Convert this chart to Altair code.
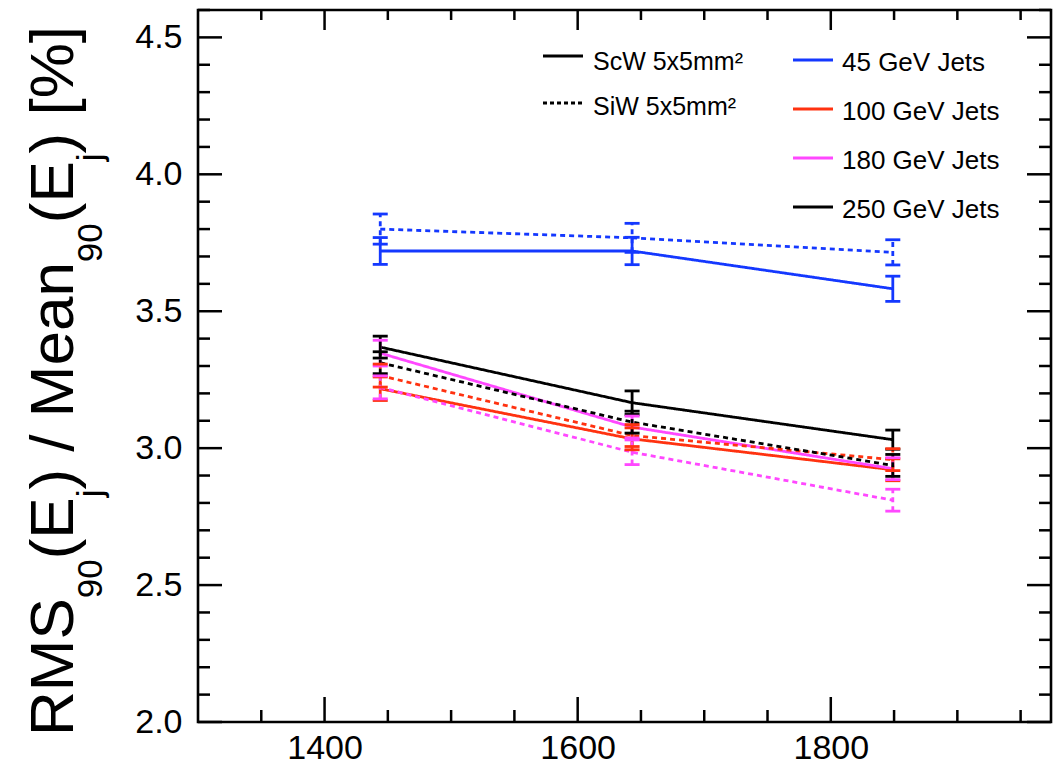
import altair as alt
import pandas as pd

# ---------------- data ----------------
x_vals = [1444, 1643, 1849]
jets = ["45 GeV Jets", "100 GeV Jets", "180 GeV Jets", "250 GeV Jets"]
jet_colors = ["#1438ff", "#ff3210", "#ff48ff", "#000000"]
detectors = ["ScW 5x5mm²", "SiW 5x5mm²"]

scw_45 = [3.720, 3.720, 3.582]
scw_100 = [3.217, 3.034, 2.921]
scw_180 = [3.347, 3.077, 2.925]
scw_250 = [3.369, 3.166, 3.031]
siw_45 = [3.800, 3.768, 3.715]
siw_100 = [3.265, 3.046, 2.958]
siw_180 = [3.222, 2.985, 2.810]
siw_250 = [3.312, 3.095, 2.937]

scw_45_err = [0.049, 0.050, 0.046]
scw_100_err = [0.043, 0.040, 0.040]
scw_180_err = [0.047, 0.040, 0.040]
scw_250_err = [0.040, 0.043, 0.035]
siw_45_err = [0.055, 0.053, 0.046]
siw_100_err = [0.042, 0.040, 0.040]
siw_180_err = [0.042, 0.045, 0.040]
siw_250_err = [0.040, 0.040, 0.040]

x_major = [1400, 1600, 1800]
x_minor = [1350, 1450, 1500, 1550, 1650, 1700, 1750, 1850, 1900, 1950]
y_major = [2.0, 2.5, 3.0, 3.5, 4.0, 4.5]
y_minor = [2.1, 2.2, 2.3, 2.4, 2.6, 2.7, 2.8, 2.9, 3.1, 3.2, 3.3, 3.4,
           3.6, 3.7, 3.8, 3.9, 4.1, 4.2, 4.3, 4.4, 4.6]

# ---------------- build long table ----------------
series = [
    (detectors[0], jets[0], scw_45, scw_45_err),
    (detectors[0], jets[1], scw_100, scw_100_err),
    (detectors[0], jets[2], scw_180, scw_180_err),
    (detectors[0], jets[3], scw_250, scw_250_err),
    (detectors[1], jets[0], siw_45, siw_45_err),
    (detectors[1], jets[1], siw_100, siw_100_err),
    (detectors[1], jets[2], siw_180, siw_180_err),
    (detectors[1], jets[3], siw_250, siw_250_err),
]
rows = []
for det, jet, vals, errs in series:
    for xv, v, e in zip(x_vals, vals, errs):
        rows.append({"det": det, "jet": jet, "x": xv, "y": v,
                     "lo": v - e, "hi": v + e})
df = pd.DataFrame(rows)

W, H = 853, 712
FONT = "Liberation Sans"
xscale = alt.Scale(domain=[1300, 1974], nice=False, zero=False)
yscale = alt.Scale(domain=[2.0, 4.6], nice=False, zero=False)
ax_x = alt.Axis(values=x_major, format="d", ticks=False, domain=False, grid=False,
                labelFontSize=34, labelFont=FONT, labelColor="black",
                labelPadding=9, title=None)
ax_y = alt.Axis(values=y_major, format=".1f", ticks=False, domain=False, grid=False,
                labelFontSize=34, labelFont=FONT, labelColor="black",
                labelPadding=16, title=None)


def X(field):
    return alt.X(field, scale=xscale, axis=ax_x, title=None)


def Y(field):
    return alt.Y(field, scale=yscale, axis=ax_y, title=None)


color = alt.Color("jet:N", scale=alt.Scale(domain=jets, range=jet_colors), legend=None)
dash = alt.StrokeDash("det:N", scale=alt.Scale(domain=detectors, range=[[1, 0], [5, 4]]), legend=None)

base = alt.Chart(df)

lines = base.mark_line(strokeWidth=2.8).encode(
    x=X("x:Q"), y=Y("y:Q"), color=color, strokeDash=dash, order="x:Q",
)
errbars = base.mark_rule(strokeWidth=2.8).encode(
    x=X("x:Q"), y=Y("lo:Q"), y2="hi:Q", color=color, strokeDash=dash,
)
cap_lo = base.mark_tick(orient="horizontal", size=15, thickness=2.8, opacity=1).encode(
    x=X("x:Q"), y=Y("lo:Q"), color=color,
)
cap_hi = base.mark_tick(orient="horizontal", size=15, thickness=2.8, opacity=1).encode(
    x=X("x:Q"), y=Y("hi:Q"), color=color,
)


# ---------------- frame ticks (pointing inward, ROOT style) ----------------
def yticks(vals, length):
    d = alt.Chart(pd.DataFrame({"v": vals}))
    left = d.mark_rule(color="black", strokeWidth=2.5).encode(
        y=Y("v:Q"), x=alt.value(0), x2=alt.value(length))
    right = d.mark_rule(color="black", strokeWidth=2.5).encode(
        y=Y("v:Q"), x=alt.value(W), x2=alt.value(W - length))
    return [left, right]


def xticks(vals, length_bottom, length_top):
    d = alt.Chart(pd.DataFrame({"v": vals}))
    bottom = d.mark_rule(color="black", strokeWidth=2.5).encode(
        x=X("v:Q"), y=alt.value(H), y2=alt.value(H - length_bottom))
    top = d.mark_rule(color="black", strokeWidth=2.5).encode(
        x=X("v:Q"), y=alt.value(0), y2=alt.value(length_top))
    return [bottom, top]


tick_layers = (yticks(y_major, 24) + yticks(y_minor, 12)
               + xticks(x_major, 25, 20) + xticks(x_minor, 12, 10))

# ---------------- legends (drawn as in the ROOT TLegend boxes) ----------------
legend_layers = []


def legend_entry(label, sx0, sx1, sy, tx, ty, col, dash_pat, size):
    d = alt.Chart(pd.DataFrame({"t": [label]}))
    sample = d.mark_rule(color=col, strokeWidth=3, strokeDash=dash_pat).encode(
        x=alt.value(sx0), x2=alt.value(sx1), y=alt.value(sy))
    txt = d.mark_text(align="left", baseline="middle", font=FONT, fontSize=size,
                      color="black").encode(
        text="t:N", x=alt.value(tx), y=alt.value(ty))
    return [sample, txt]


legend_layers += legend_entry(detectors[0], 345, 385, 46, 395, 52, "black", [1, 0], 25)
legend_layers += legend_entry(detectors[1], 345, 385, 93, 395, 97, "black", [4, 3], 25)
jet_rows = [50, 99, 148, 197]
for lab, col, ry in zip(jets, jet_colors, jet_rows):
    legend_layers += legend_entry(lab, 595, 635, ry, 644, ry + 2.5, col, [1, 0], 26)

# ---------------- y title with sub-scripts ----------------
ARIAL = {"R": 722, "M": 833, "S": 667, "(": 333, "E": 667, ")": 333, " ": 278,
         "/": 278, "e": 556, "a": 556, "n": 556, "[": 278, "%": 889, "]": 278,
         "9": 556, "0": 556, "j": 222}
S_MAIN, S_SUB = 62, 35
segments = [("RMS", False), ("90", True), ("(E", False), ("j", True),
            (") / Mean", False), ("90", True), ("(E", False), ("j", True),
            (") [%]", False)]
title_layers = []
pos = 726.0
for txt, is_sub in segments:
    size = S_SUB if is_sub else S_MAIN
    xb = -96 if is_sub else -125
    title_layers.append(
        alt.Chart(pd.DataFrame({"t": [txt]})).mark_text(
            align="left", baseline="alphabetic", angle=270, font=FONT,
            fontSize=size, color="black").encode(
            text="t:N", x=alt.value(xb), y=alt.value(pos)))
    pos -= sum(ARIAL[c] for c in txt) / 1000.0 * size

chart = alt.layer(
    lines, errbars, cap_lo, cap_hi, *tick_layers, *legend_layers, *title_layers
).properties(
    width=W, height=H,
    padding={"left": 198, "top": 10, "right": 3, "bottom": 52},
    autosize=alt.AutoSizeParams(type="none"),
    background="white",
).configure_view(
    stroke="black", strokeWidth=2.6
)

chart.save("out.html", embed_options={"renderer": "svg", "actions": False})
